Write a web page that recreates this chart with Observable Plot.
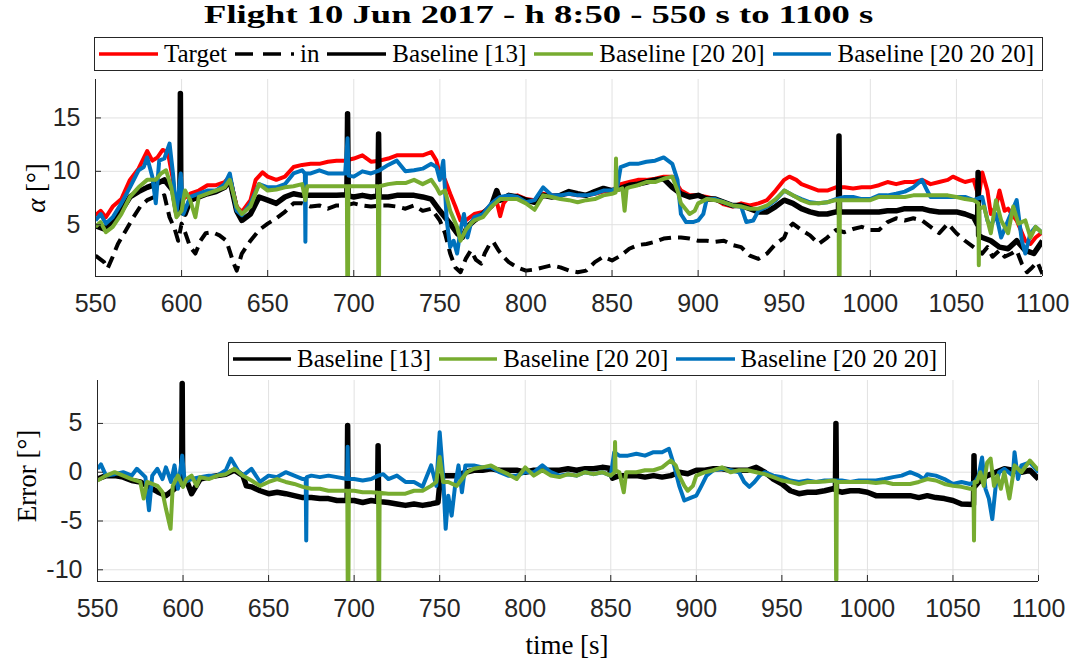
<!DOCTYPE html>
<html>
<head>
<meta charset="utf-8">
<script src="https://cdn.jsdelivr.net/npm/d3@7"></script>
<script src="https://cdn.jsdelivr.net/npm/@observablehq/plot@0.6"></script>
<style>
  body { margin: 0; background: #fff; }
  #fig { position: relative; width: 1077px; height: 666px; overflow: hidden; background: #fff;
         font-family: "Liberation Serif", "Times New Roman", serif; color: #000; }
  .abs { position: absolute; }
  .title { left: 0; width: 1077px; top: 1px; text-align: center; font-weight: bold; font-size: 26px; line-height: 28px; white-space: nowrap; }
  .title span { display: inline-block; transform-origin: 50% 50%; }
  .legend { border: 1px solid #262626; background: #fff; display: flex; align-items: center; box-sizing: border-box;
            font-size: 25px; white-space: nowrap; padding-left: 4px; }
  .legend svg { display: block; margin-right: 6px; }
  .legend span { margin-right: 8px; }
  .ylab { transform: translate(-50%, -50%) rotate(-90deg); white-space: nowrap; font-size: 27px; }
  .xlab { transform: translate(-50%, -50%); white-space: nowrap; font-size: 27px; }
</style>
</head>
<body>
<div id="fig">
  <div class="abs title"><span id="titleText">Flight 10 Jun 2017 - h 8:50 - 550 s to 1100 s</span></div>
  <div id="legTop" class="abs legend" style="left:94px; top:37px; width:949px; height:34px;"></div>
  <div id="plotTop" class="abs" style="left:0; top:70px;"></div>
  <div class="abs ylab" style="left:36px; top:188px;"><i>α</i> [°]</div>
  <div id="legBot" class="abs legend" style="left:228px; top:342px; width:718px; height:34px;"></div>
  <div id="plotBot" class="abs" style="left:0; top:376px;"></div>
  <div class="abs ylab" style="left:27px; top:476px;">Error [°]</div>
  <div class="abs xlab" style="left:567px; top:645px;">time [s]</div>
</div>
<script>
// Time axis ticks (s) and value-axis ticks (deg)
const timeTicks = [550, 600, 650, 700, 750, 800, 850, 900, 950, 1000, 1050, 1100];
const alphaTicks = [5, 10, 15];
const errorTicks = [-10, -5, 0, 5];

// Angle of attack, top panel: [time s, alpha deg]
const target = [[550,5.9],[553,6.3],[556,5.7],[560,6.7],[565,7.4],[570,9.2],[575,10.25],[580,11.9],[583,11.0],[586,11.3],[589,12.0],[592,11.8],[595,9.2],[597,6.0],[600,7.3],[605,7.9],[610,8.2],[615,8.7],[620,8.7],[625,9.0],[628,9.5],[632,6.7],[635,6.2],[640,7.3],[643,9.2],[647,9.9],[650,9.5],[655,9.2],[660,9.5],[665,10.4],[670,10.6],[675,10.7],[680,10.7],[685,10.9],[690,11.0],[695,11.0],[700,11.2],[705,11.5],[710,10.9],[715,11.0],[720,11.2],[725,11.5],[730,11.5],[735,11.5],[740,11.5],[745,11.8],[748,11.0],[750,9.8],[753,9.2],[756,7.9],[759,6.7],[762,5.4],[765,5.4],[770,6.0],[775,6.2],[780,6.7],[783,7.2],[785,5.8],[787,7.0],[790,7.6],[795,7.75],[800,7.4],[805,7.3],[810,7.9],[815,7.75],[820,7.75],[825,7.9],[830,7.75],[835,7.75],[840,7.9],[845,8.1],[850,8.2],[855,8.8],[860,9.0],[865,9.2],[870,9.2],[875,9.3],[880,9.5],[885,9.5],[890,8.2],[895,7.75],[900,7.75],[905,7.6],[910,7.4],[915,6.9],[920,6.7],[925,7.0],[930,6.8],[935,7.0],[940,7.3],[945,8.2],[950,9.2],[953,9.5],[957,9.2],[960,8.8],[965,8.5],[970,8.2],[975,8.2],[980,8.5],[985,8.5],[990,8.4],[995,8.5],[1000,8.5],[1005,8.7],[1010,9.0],[1015,8.8],[1020,9.0],[1025,9.0],[1030,9.2],[1035,8.8],[1040,9.0],[1045,9.2],[1048,9.5],[1052,9.2],[1055,9.0],[1060,9.2],[1063,7.6],[1065,9.9],[1068,8.2],[1070,6.0],[1073,6.7],[1075,8.2],[1078,6.3],[1080,6.5],[1085,5.4],[1090,3.5],[1093,3.2],[1096,3.8],[1100,4.3]];

const alphaIn = [[550,2.1],[555,1.5],[557,0.9],[560,2.0],[563,3.2],[567,4.3],[572,5.7],[576,6.7],[580,7.3],[584,7.6],[588,7.6],[590,7.75],[593,5.7],[596,4.6],[598,3.5],[600,5.1],[602,4.3],[605,2.9],[608,2.3],[611,3.5],[614,4.2],[618,4.3],[622,4.0],[626,3.5],[630,1.5],[632,0.7],[635,2.3],[640,3.5],[645,4.5],[650,5.1],[655,5.6],[660,6.2],[665,7.0],[670,7.0],[675,6.7],[680,6.8],[685,6.5],[690,6.8],[695,6.8],[700,7.0],[705,6.8],[710,6.7],[715,6.8],[720,6.8],[725,6.7],[730,6.5],[735,6.8],[740,6.3],[745,6.5],[750,5.4],[753,4.2],[756,2.3],[759,1.0],[762,0.55],[765,1.8],[768,2.6],[771,1.7],[774,1.35],[776,2.3],[779,3.2],[781,3.4],[784,2.6],[787,2.0],[790,1.5],[795,1.0],[800,0.7],[805,0.8],[810,1.0],[815,1.2],[820,1.0],[825,0.7],[830,0.55],[835,0.7],[840,1.5],[845,2.0],[850,1.65],[855,2.1],[860,2.75],[865,3.1],[870,3.2],[875,3.4],[880,3.7],[885,3.8],[890,3.8],[895,3.7],[900,3.5],[905,3.5],[910,3.4],[915,3.5],[920,3.1],[925,2.9],[930,2.1],[935,1.8],[940,2.3],[945,3.2],[950,3.8],[952,4.6],[955,5.1],[960,4.5],[965,4.0],[970,3.2],[975,3.8],[980,4.5],[985,4.3],[990,4.6],[995,4.8],[1000,4.5],[1005,4.5],[1010,5.25],[1015,5.6],[1020,5.4],[1025,5.6],[1030,5.4],[1035,4.8],[1040,4.2],[1045,5.1],[1050,4.2],[1055,3.5],[1060,2.9],[1065,2.3],[1068,2.9],[1071,2.0],[1075,2.6],[1078,2.0],[1082,2.3],[1085,2.6],[1088,1.35],[1091,0.55],[1094,1.0],[1097,1.5],[1100,0.4]];

const base13 = [[550,4.9],[555,4.6],[560,5.4],[565,6.3],[570,7.6],[575,8.1],[580,8.5],[585,8.8],[590,9.2],[595,8.2],[597,6.2],[599,6.5],[599.3,17.3],[599.6,6.2],[602,6.0],[605,7.3],[610,7.6],[615,7.9],[620,8.1],[625,8.5],[628,9.2],[632,6.3],[635,5.4],[640,6.0],[645,7.6],[650,7.3],[655,7.0],[660,7.6],[665,7.9],[670,7.75],[675,7.75],[680,7.75],[685,7.75],[690,7.75],[696,7.8],[696.4,15.4],[696.8,7.7],[700,7.6],[705,7.75],[710,7.6],[714,7.7],[714.4,13.5],[714.8,7.6],[720,7.6],[725,7.75],[730,7.75],[735,7.75],[740,7.6],[745,7.4],[750,6.3],[753,5.7],[756,5.1],[760,4.2],[763,3.8],[766,4.8],[770,5.4],[775,6.0],[780,6.8],[783,8.2],[785,7.3],[790,7.75],[795,7.6],[800,7.3],[805,7.1],[810,7.75],[815,7.6],[820,7.75],[825,8.1],[830,7.9],[835,7.75],[840,8.1],[845,8.4],[850,8.2],[855,8.4],[860,8.7],[865,8.8],[870,9.0],[875,9.2],[880,9.3],[885,8.5],[890,7.9],[895,7.6],[900,7.75],[905,7.4],[910,7.4],[915,7.1],[920,6.8],[925,6.8],[930,6.5],[935,6.2],[940,6.2],[945,6.7],[950,7.3],[955,7.0],[960,6.5],[965,6.2],[970,6.0],[975,6.0],[980,6.2],[981.5,6.2],[981.8,13.3],[982.1,6.2],[985,6.2],[990,6.2],[995,6.2],[1000,6.2],[1005,6.2],[1010,6.3],[1015,6.3],[1020,6.5],[1025,6.5],[1030,6.5],[1035,6.3],[1040,6.2],[1045,6.2],[1050,6.2],[1055,6.0],[1060,5.7],[1062.3,5.0],[1062.6,9.9],[1062.9,4.0],[1065,3.8],[1070,3.5],[1075,2.9],[1080,2.75],[1085,3.5],[1090,2.6],[1095,2.3],[1100,3.5]];

const base2020 = [[550,4.8],[553,5.25],[556,4.3],[560,4.8],[565,6.0],[570,7.6],[575,8.5],[580,9.2],[585,9.2],[588,9.8],[591,10.1],[594,8.5],[597,5.7],[600,6.3],[602,8.2],[605,7.3],[608,5.7],[610,7.6],[615,7.9],[620,8.2],[625,8.5],[628,9.2],[632,6.7],[635,6.0],[640,6.7],[645,8.8],[650,8.2],[655,8.3],[660,8.5],[665,8.6],[670,8.8],[671.9,7.3],[673,8.6],[675,8.6],[680,8.6],[685,8.6],[690,8.6],[696,8.6],[696.3,-3],[696.6,-3],[696.9,8.6],[700,8.6],[705,8.6],[710,8.6],[714,8.6],[714.3,-3],[714.6,-3],[714.9,8.6],[720,8.8],[725,8.9],[730,8.9],[735,9.2],[740,8.8],[745,9.2],[748,8.5],[750,7.9],[753,8.2],[756,6.3],[760,4.8],[762,3.5],[765,4.5],[768,5.1],[770,5.4],[775,5.7],[780,6.7],[785,7.4],[790,7.4],[795,7.4],[800,7.0],[805,6.4],[810,7.75],[815,7.6],[820,7.4],[825,7.3],[830,7.1],[835,7.3],[840,7.4],[845,7.75],[850,7.9],[852,8.0],[852.3,11.2],[852.6,8.2],[856,8.4],[857.3,6.3],[858.5,8.4],[860,8.5],[865,8.7],[870,9.0],[875,9.0],[880,9.3],[885,9.5],[888,8.2],[890,7.0],[895,6.0],[898,6.3],[900,7.0],[905,7.4],[910,7.3],[915,7.1],[920,6.8],[925,6.7],[930,6.5],[935,6.5],[940,6.8],[945,7.4],[950,8.2],[955,7.75],[960,7.3],[965,7.0],[970,7.0],[975,7.1],[980,7.3],[981.6,7.3],[981.8,-3],[982.1,-3],[982.3,7.3],[985,7.3],[990,7.3],[995,7.3],[1000,7.3],[1005,7.6],[1010,7.6],[1015,7.6],[1020,7.6],[1025,7.75],[1030,7.75],[1035,7.75],[1040,7.75],[1045,7.75],[1050,7.6],[1055,7.4],[1060,7.3],[1062.8,7.0],[1063,1.2],[1063.3,6.5],[1066,6.7],[1070,4.2],[1073,7.3],[1076,5.4],[1080,4.2],[1083,6.7],[1086,5.1],[1090,5.4],[1093,3.8],[1096,4.8],[1100,4.2]];

const base202020 = [[550,5.4],[553,6.0],[556,5.1],[560,5.7],[565,7.0],[570,8.5],[575,10.1],[578,10.4],[580,11.3],[583,9.5],[585,7.0],[587,11.0],[590,11.2],[593,12.6],[595,9.8],[597,6.0],[599.5,9.8],[601,6.0],[605,7.6],[610,7.9],[615,8.2],[620,8.2],[625,8.8],[628,9.8],[632,6.3],[635,5.9],[640,7.0],[645,8.8],[650,8.5],[655,8.5],[660,8.8],[665,9.8],[670,10.1],[671.6,9.8],[671.9,3.4],[672.2,9.8],[675,9.8],[680,10.1],[685,9.8],[690,9.8],[695,9.8],[696.4,13.1],[697,9.6],[700,9.5],[705,10.0],[710,9.8],[715,10.1],[720,10.6],[725,11.0],[730,10.0],[735,10.1],[740,10.25],[745,10.7],[748,10.4],[750,9.2],[752,11.0],[754,5.4],[756,2.9],[758,3.5],[760,2.3],[762,4.5],[764,6.0],[766,3.8],[768,5.1],[770,5.7],[775,6.0],[780,7.0],[785,7.6],[790,7.75],[795,7.6],[800,7.1],[805,7.3],[810,8.5],[815,7.75],[820,7.75],[825,7.9],[830,7.75],[835,7.75],[840,7.9],[845,8.2],[850,8.2],[853,8.5],[855,10.4],[860,10.7],[865,10.7],[870,10.9],[875,11.0],[880,11.3],[885,10.7],[888,9.2],[890,6.0],[893,5.25],[897,5.25],[900,5.4],[903,6.0],[905,7.4],[910,7.4],[915,7.1],[920,6.8],[925,6.7],[928,5.25],[932,5.4],[935,6.3],[940,6.7],[945,7.3],[950,8.2],[955,7.75],[960,7.4],[965,7.1],[970,7.0],[975,7.1],[980,7.4],[985,7.6],[990,7.6],[995,7.4],[1000,7.4],[1005,7.75],[1010,7.75],[1015,7.9],[1020,8.1],[1025,8.5],[1030,9.2],[1033,8.2],[1035,7.6],[1040,7.6],[1045,7.6],[1050,7.6],[1055,7.6],[1060,7.3],[1065,7.6],[1068,5.4],[1070,4.8],[1073,6.0],[1076,3.8],[1080,5.4],[1085,7.3],[1088,3.5],[1090,2.3],[1093,4.2],[1096,4.8],[1100,4.2]];

// Tracking error, bottom panel: [time s, error deg]
const err13 = [[550,-0.7],[555,-0.35],[560,-0.35],[565,-0.5],[570,-0.85],[575,-1.0],[580,-1.5],[585,-2.0],[590,-2.4],[595,-1.7],[599.2,-1.0],[599.5,9.1],[599.8,-0.9],[602,-0.8],[605,-2.2],[610,-0.7],[615,-0.5],[620,-0.35],[625,-0.2],[630,0.2],[635,-0.35],[637,-1.4],[640,-1.5],[645,-1.9],[650,-2.2],[655,-2.05],[660,-2.2],[665,-2.4],[670,-2.6],[675,-2.6],[680,-2.7],[685,-2.7],[690,-2.9],[695.9,-2.9],[696.2,4.8],[696.5,-2.9],[700,-2.9],[705,-3.1],[710,-2.9],[713.7,-3.0],[714,2.7],[714.3,-3.0],[720,-3.1],[725,-3.25],[730,-3.4],[735,-3.25],[740,-3.4],[745,-3.25],[749,-3.1],[750.5,-0.35],[755,-0.35],[760,-0.35],[765,0],[770,0.2],[775,0.2],[780,0.35],[785,0.2],[790,0.2],[795,0.2],[800,0],[805,0.2],[810,0.2],[815,0.2],[820,0.2],[825,0.35],[830,0.2],[835,0.35],[840,0.35],[845,0.5],[849,0.4],[851,-0.6],[855,-0.35],[860,-0.35],[865,-0.35],[870,-0.5],[875,-0.35],[880,-0.5],[885,-0.35],[890,0],[895,-0.15],[900,0.2],[905,0.2],[910,0.35],[915,0.35],[920,0.2],[925,0.2],[930,0.2],[935,0.5],[940,0],[945,-0.7],[950,-1.2],[955,-1.9],[960,-2.2],[965,-2.05],[970,-2.05],[975,-1.9],[980,-1.7],[981.3,-1.8],[981.6,5.0],[981.9,-1.9],[985,-2.05],[990,-1.9],[995,-1.9],[1000,-2.05],[1005,-2.4],[1010,-2.4],[1015,-2.4],[1020,-2.4],[1025,-2.4],[1030,-2.6],[1035,-2.4],[1040,-2.6],[1045,-2.7],[1050,-2.9],[1055,-3.25],[1062,-3.3],[1062.3,1.7],[1062.6,-1.5],[1065,-1.0],[1070,-0.35],[1075,0],[1080,0.35],[1085,0.2],[1090,0],[1095,0.2],[1100,-0.7]];

const err2020 = [[550,-0.85],[555,-0.35],[560,0],[565,-0.35],[570,-0.7],[575,-1.0],[577,-2.7],[579,-1.0],[585,-1.4],[588,-2.05],[590,-3.75],[592.7,-5.8],[594,-1.4],[597,-0.35],[600,-1.5],[602,-0.7],[605,-0.35],[608,-1.4],[610,-0.5],[615,-0.7],[620,-0.35],[625,-0.2],[630,0.35],[635,-0.35],[640,-0.85],[645,-1.4],[650,-1.0],[655,-0.7],[660,-1.0],[665,-1.2],[670,-1.5],[675,-1.7],[680,-1.7],[685,-1.9],[690,-1.9],[696,-1.9],[696.3,-14],[696.6,-14],[696.9,-1.9],[700,-1.9],[705,-2.05],[710,-2.05],[714,-2.1],[714.3,-14],[714.6,-14],[714.9,-2.1],[720,-2.2],[725,-2.2],[730,-2.2],[735,-1.9],[740,-1.9],[745,-1.4],[748,-1.0],[750,1.55],[752,-1.0],[755,-1.0],[760,-1.4],[763,-0.7],[766,0],[770,0.35],[775,0.5],[780,0.7],[785,0.2],[790,-0.2],[795,-0.7],[800,0.5],[805,-0.35],[810,0.2],[815,-0.35],[820,-0.5],[825,-0.2],[830,-0.35],[835,0],[840,-0.2],[845,0],[850,-0.35],[852.2,0],[852.5,3.1],[852.8,0.2],[855,0],[857.6,-2.05],[859,0],[860,0],[865,0],[870,0.2],[875,0.2],[880,0.5],[885,1.2],[888,0.7],[890,-0.35],[893,-1.4],[895,-1.9],[898,-1.4],[900,-0.35],[905,0],[910,0.2],[915,0.5],[920,0],[925,0.2],[930,0.2],[935,0],[940,-0.2],[945,-0.5],[950,-0.85],[955,-1.0],[960,-1.2],[965,-1.0],[970,-1.0],[975,-0.95],[980,-0.85],[981.5,-0.9],[981.7,-11.0],[981.9,-11.0],[982.1,-1.0],[985,-1.0],[990,-1.0],[995,-1.0],[1000,-1.0],[1005,-1.1],[1010,-1.0],[1015,-1.2],[1020,-1.2],[1025,-1.2],[1030,-1.0],[1035,-0.7],[1040,-0.85],[1045,-1.2],[1050,-1.4],[1055,-1.5],[1060,-1.7],[1062,-1.7],[1062.3,-7.0],[1062.6,-1.0],[1064,-1.0],[1066,0],[1068,-1.4],[1070,1.0],[1072,1.4],[1074,-1.4],[1076,-0.35],[1078,-1.7],[1080,0],[1083,-2.7],[1086,0.7],[1090,0],[1095,1.2],[1100,0.2]];

const err202020 = [[550,0.35],[552,0.8],[555,-0.35],[560,-0.2],[565,0],[570,-0.35],[573,0.35],[578,-0.5],[580.1,-3.9],[582,-0.35],[585,0.35],[588,-0.7],[590,0.5],[593,-1.0],[595,0.7],[597,-1.7],[599.5,1.7],[601,-1.0],[605,-0.7],[610,-0.5],[615,-0.35],[620,-0.35],[625,0.2],[628,1.4],[632,0.2],[635,-0.35],[640,0.35],[645,-1.0],[650,-0.35],[655,-0.5],[660,0],[665,-0.35],[670,-0.7],[671.7,-0.7],[672,-7.0],[672.3,-0.5],[675,-0.35],[680,-0.5],[685,-0.35],[690,-0.5],[695.9,-0.7],[696.2,2.6],[696.5,-0.7],[700,-0.7],[705,-0.85],[710,-0.7],[714,-0.35],[717,-0.2],[720,-0.7],[725,-0.35],[730,-1.0],[735,-1.0],[740,-1.5],[745,0.7],[748,-1.4],[750,4.1],[752,-0.35],[753.5,-5.8],[755,-2.4],[757,-4.45],[759,-1.4],[761,0.7],[763,-2.05],[765,0.7],[770,0.7],[775,0.5],[780,0.5],[785,0],[790,-0.35],[795,-0.35],[800,0],[805,0],[810,0.7],[815,0],[820,-0.35],[825,-0.2],[830,-0.35],[835,0],[840,-0.2],[845,0],[850,-0.35],[852,2.05],[855,1.7],[860,1.7],[865,1.9],[870,1.7],[875,2.05],[880,2.05],[884,2.4],[887,0.7],[890,-1.4],[893,-2.9],[897,-2.6],[900,-2.4],[903,-1.4],[906,-0.35],[910,0.2],[915,0.35],[920,0.2],[925,0],[928,-1.0],[931,-1.5],[934,-1.0],[937,-0.35],[940,0],[945,-0.35],[950,-0.5],[955,-0.85],[960,-1.0],[965,-0.85],[970,-1.0],[975,-0.85],[980,-0.85],[985,-0.85],[990,-1.0],[995,-0.85],[1000,-0.85],[1005,-0.85],[1010,-0.7],[1015,-0.5],[1020,-0.35],[1025,0],[1030,-0.35],[1033,-0.7],[1035,-0.2],[1040,-0.35],[1045,-0.7],[1050,-1.2],[1055,-1.0],[1060,-1.2],[1063,-1.0],[1065,-0.35],[1067,1.5],[1069,-1.7],[1071,-2.7],[1073,-4.8],[1075,-1.4],[1077,0],[1080,0.35],[1085,-0.35],[1086,2.05],[1088,-0.7],[1090,0.7],[1095,1.0],[1100,0]];

// Series styles
const RED = "#ff0000", BLACK = "#000000", GREEN = "#77ac30", BLUE = "#0072bd";
const AXIS = "#262626", GRID = "#e1e1e1";
const DASH = "12,7";
const LW = 4;

const rows = pairs => pairs.map(([t, v]) => ({t, v}));
const line = (pairs, opts) => Plot.line(rows(pairs), {x: "t", y: "v", clip: true, strokeLinejoin: "round", strokeLinecap: "butt", ...opts});

function panel({yDomain, yTicks, marginLeft, marginRight, marginTop, marginBottom, height, series}) {
  return Plot.plot({
    width: 1077, height, marginLeft, marginRight, marginTop, marginBottom,
    style: {fontFamily: '"Liberation Sans", Arial, sans-serif', fontSize: "25px", color: AXIS, background: "transparent", overflow: "visible"},
    x: {domain: [550, 1100], label: null},
    y: {domain: yDomain, label: null},
    marks: [
      Plot.gridX(timeTicks, {stroke: GRID, strokeOpacity: 1}),
      Plot.gridY(yTicks, {stroke: GRID, strokeOpacity: 1}),
      ...series,
      Plot.ruleX([550], {stroke: AXIS, strokeWidth: 1}),
      Plot.ruleY([yDomain[0]], {stroke: AXIS, strokeWidth: 1}),
      Plot.axisX(timeTicks, {tickSize: -6, tickPadding: 24, stroke: AXIS, fill: AXIS, tickFormat: d => String(d), label: null}),
      Plot.axisY(yTicks, {tickSize: -6, tickPadding: 21, stroke: AXIS, fill: AXIS, tickFormat: d => String(d), label: null})
    ]
  });
}

document.getElementById("plotTop").append(panel({
  yDomain: [0.15, 18.6], yTicks: alphaTicks,
  marginLeft: 95, marginRight: 35, marginTop: 9, marginBottom: 44, height: 250,
  series: [
    line(target, {stroke: RED, strokeWidth: LW}),
    line(alphaIn, {stroke: BLACK, strokeWidth: LW, strokeDasharray: DASH}),
    line(base13, {stroke: BLACK, strokeWidth: 5.5}),
    line(base202020, {stroke: BLUE, strokeWidth: LW}),
    line(base2020, {stroke: GREEN, strokeWidth: LW})
  ]
}));

document.getElementById("plotBot").append(panel({
  yDomain: [-11.2, 9.4], yTicks: errorTicks,
  marginLeft: 97, marginRight: 39, marginTop: 4, marginBottom: 85, height: 290,
  series: [
    line(err13, {stroke: BLACK, strokeWidth: 5.5}),
    line(err202020, {stroke: BLUE, strokeWidth: LW}),
    line(err2020, {stroke: GREEN, strokeWidth: LW})
  ]
}));

// Legends
function legend(el, items) {
  for (const {label, color, dash} of items) {
    const svg = d3.create("svg").attr("width", 60).attr("height", 10);
    svg.append("line").attr("x1", 0).attr("x2", 60).attr("y1", 5).attr("y2", 5)
      .attr("stroke", color).attr("stroke-width", 3.5)
      .attr("stroke-dasharray", dash || null);
    el.append(svg.node());
    const span = document.createElement("span");
    span.textContent = label;
    el.append(span);
  }
}
legend(document.getElementById("legTop"), [
  {label: "Target", color: RED},
  {label: "in", color: BLACK, dash: "18,10"},
  {label: "Baseline [13]", color: BLACK},
  {label: "Baseline [20 20]", color: GREEN},
  {label: "Baseline [20 20 20]", color: BLUE}
]);
legend(document.getElementById("legBot"), [
  {label: "Baseline [13]", color: BLACK},
  {label: "Baseline [20 20]", color: GREEN},
  {label: "Baseline [20 20 20]", color: BLUE}
]);

// Title stretched to the width of the wide serif heading
const titleEl = document.getElementById("titleText");
const tw = titleEl.getBoundingClientRect().width;
titleEl.style.transform = `scaleX(${(669 / tw).toFixed(3)})`;
</script>
</body>
</html>
